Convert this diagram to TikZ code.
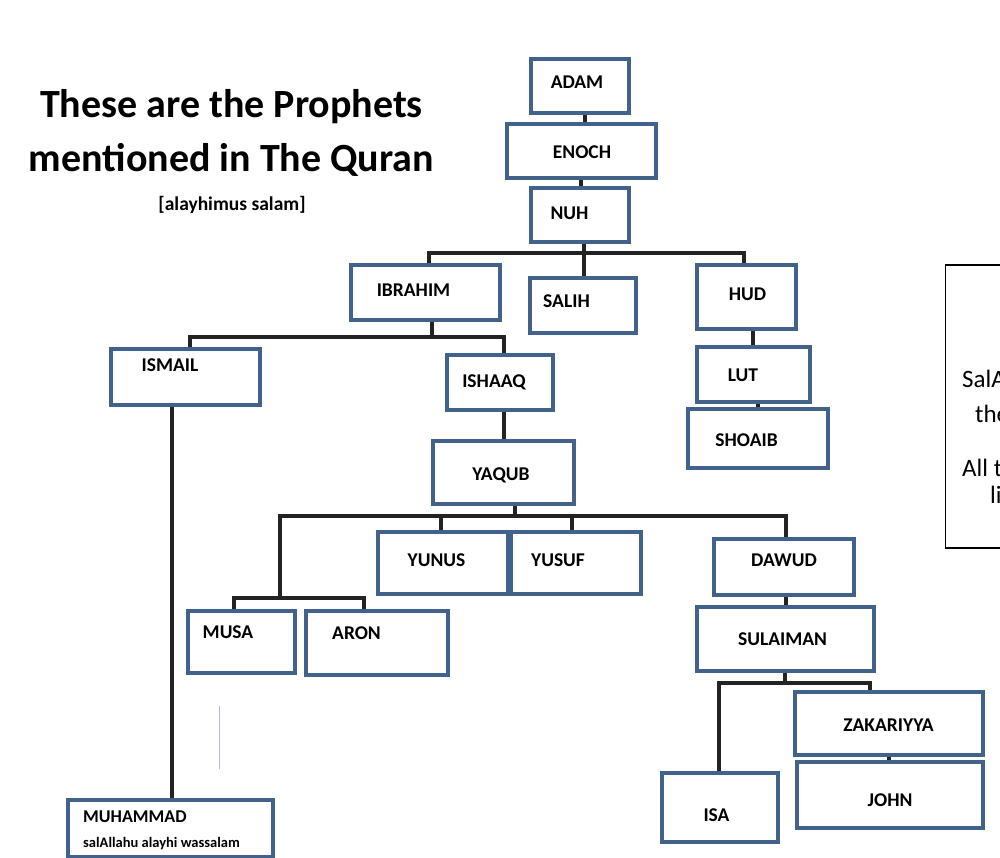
\documentclass[tikz,border=0pt]{standalone}
\usepackage{fontspec}
\setmainfont{Carlito}
\definecolor{boxblue}{RGB}{66,98,140}
\definecolor{connc}{RGB}{35,35,35}
\definecolor{faintline}{RGB}{176,186,204}
\begin{document}
\begin{tikzpicture}[x=1pt,y=-1pt,
  box/.style={draw=boxblue,line width=3.2pt,fill=white,rectangle,inner sep=0pt},
  lbl/.style={font=\fontsize{19.5}{22}\selectfont\bfseries,anchor=base,inner sep=0pt},
  conn/.style={draw=connc,line width=3.5pt},
  title/.style={font=\fontsize{40}{46}\selectfont\bfseries,anchor=base,inner sep=0pt},
  side/.style={font=\fontsize{25}{30}\selectfont,anchor=base west,inner sep=0pt}]
\useasboundingbox (0,0) rectangle (1000,858);
\clip (0,0) rectangle (1000,858);
\fill[white] (0,0) rectangle (1000,858);

% title
\node[title] (t1) at (231.5,118) {These are the Prophets};
\node[title] (t2) at (231.5,172) {mentioned in The Quran};
\node[font=\fontsize{19.5}{22}\selectfont\bfseries,anchor=base,inner sep=0pt] (t3) at (232,211) {[alayhimus salam]};

% junction coordinates
\coordinate (j1L) at (429,253);
\coordinate (j1R) at (744,253);
\coordinate (j2T) at (432,337);
\coordinate (j2L) at (190,337);
\coordinate (j2R) at (504,337);
\coordinate (mx) at (172,0);
\coordinate (j3T) at (515,516);
\coordinate (j3L) at (280,516);
\coordinate (j3R) at (786,516);
\coordinate (j3a) at (441,516);
\coordinate (j3b) at (572,516);
\coordinate (j4M) at (280,598);
\coordinate (j4L) at (234,598);
\coordinate (j4R) at (364,598);
\coordinate (j5T) at (785,683);
\coordinate (j5L) at (719,683);
\coordinate (j5R) at (870,683);
\coordinate (c1) at (585,0);
\coordinate (c2) at (581,0);
\coordinate (c3) at (584,0);
\coordinate (c4) at (753,0);
\coordinate (c5) at (758,0);
\coordinate (c6) at (786,0);
\coordinate (c7) at (889,0);

% boxes
\node[box,minimum width=98pt,minimum height=54pt] (adam) at (580,86) {};
\node[box,minimum width=149pt,minimum height=54pt] (enoch) at (581.5,151) {};
\node[box,minimum width=98pt,minimum height=54pt] (nuh) at (580,215) {};
\node[box,minimum width=149pt,minimum height=55pt] (ibrahim) at (425.5,292.5) {};
\node[box,minimum width=106pt,minimum height=55pt] (salih) at (583,305.5) {};
\node[box,minimum width=99pt,minimum height=64pt] (hud) at (746.5,297) {};
\node[box,minimum width=113pt,minimum height=55pt] (lut) at (753.5,374.5) {};
\node[box,minimum width=140pt,minimum height=59pt] (shoaib) at (758,438.5) {};
\node[box,minimum width=149pt,minimum height=56pt] (ismail) at (185.5,377) {};
\node[box,minimum width=106pt,minimum height=55pt] (ishaaq) at (500,382.5) {};
\node[box,minimum width=141pt,minimum height=63pt] (yaqub) at (503.5,472.5) {};
\node[box,minimum width=130pt,minimum height=62pt] (yunus) at (443,563) {};
\node[box,minimum width=130pt,minimum height=62pt] (yusuf) at (576,563) {};
\node[box,minimum width=140pt,minimum height=56pt] (dawud) at (784,567) {};
\node[box,minimum width=107pt,minimum height=62pt] (musa) at (241.5,642) {};
\node[box,minimum width=142pt,minimum height=64pt] (aron) at (377,643) {};
\node[box,minimum width=177pt,minimum height=64pt] (sulaiman) at (785.5,639) {};
\node[box,minimum width=188pt,minimum height=63pt] (zakariyya) at (889,723.5) {};
\node[box,minimum width=186pt,minimum height=66pt] (john) at (890,795) {};
\node[box,minimum width=116pt,minimum height=69pt] (isa) at (720,807.5) {};
\node[box,minimum width=205pt,minimum height=57pt] (muhammad) at (170.5,828.5) {};

% connectors
\draw[conn] (c1 |- adam.south) -- (c1 |- enoch.north);
\draw[conn] (c2 |- enoch.south) -- (c2 |- nuh.north);
\draw[conn] (c3 |- nuh.south) -- (c3 |- salih.north);
\draw[conn] (j1L |- ibrahim.north) -- (j1L) -- (j1R) -- (j1R |- hud.north);
\draw[conn] (c4 |- hud.south) -- (c4 |- lut.north);
\draw[conn] (c5 |- lut.south) -- (c5 |- shoaib.north);
\draw[conn] (j2T |- ibrahim.south) -- (j2T);
\draw[conn] (j2L |- ismail.north) -- (j2L) -- (j2R) -- (j2R |- ishaaq.north);
\draw[conn] (mx |- ismail.south) -- (mx |- muhammad.north);
\draw[conn] (j2R |- ishaaq.south) -- (j2R |- yaqub.north);
\draw[conn] (j3T |- yaqub.south) -- (j3T);
\draw[conn] (j4M) -- (j3L) -- (j3R) -- (j3R |- dawud.north);
\draw[conn] (j3a) -- (j3a |- yunus.north);
\draw[conn] (j3b) -- (j3b |- yusuf.north);
\draw[conn] (j4L |- musa.north) -- (j4L) -- (j4R) -- (j4R |- aron.north);
\draw[conn] (c6 |- dawud.south) -- (c6 |- sulaiman.north);
\draw[conn] (j5T |- sulaiman.south) -- (j5T);
\draw[conn] (j5L |- isa.north) -- (j5L) -- (j5R) -- (j5R |- zakariyya.north);
\draw[conn] (c7 |- zakariyya.south) -- (c7 |- john.north);

% labels
\node[lbl] (ladam) at (577,88.5) {ADAM};
\node[lbl] (lenoch) at (582,158.5) {ENOCH};
\node[lbl] (lnuh) at (569.5,220) {NUH};
\node[lbl] (librahim) at (413.5,297) {IBRAHIM};
\node[lbl] (lsalih) at (566.5,307) {SALIH};
\node[lbl] (lhud) at (747.5,300) {HUD};
\node[lbl] (llut) at (743,381) {LUT};
\node[lbl] (lshoaib) at (746.5,446) {SHOAIB};
\node[lbl] (lismail) at (170,371) {ISMAIL};
\node[lbl] (lishaaq) at (494,387) {ISHAAQ};
\node[lbl] (lyaqub) at (501,480) {YAQUB};
\node[lbl] (lyunus) at (436.5,566) {YUNUS};
\node[lbl] (lyusuf) at (558,566) {YUSUF};
\node[lbl] (ldawud) at (784,566) {DAWUD};
\node[lbl] (lmusa) at (228,638) {MUSA};
\node[lbl] (laron) at (356.5,639) {ARON};
\node[lbl] (lsulaiman) at (782.5,645) {SULAIMAN};
\node[lbl] (lzak) at (888.5,731) {ZAKARIYYA};
\node[lbl] (ljohn) at (890,806) {JOHN};
\node[lbl] (lisa) at (716.5,821) {ISA};
\node[lbl,anchor=base west,font=\fontsize{18}{22}\selectfont\bfseries] (lmuh) at (83,822) {MUHAMMAD};
\node[lbl,anchor=base west,font=\fontsize{14.5}{18}\selectfont\bfseries] (lmuh2) at (83,847) {salAllahu alayhi wassalam};

% faint line
\draw[faintline,line width=1pt] (219,706) -- (219,769);

% right partial box
\draw[black,line width=1.2pt] (1010,265) -- (945.5,265) -- (945.5,548) -- (1010,548);
\node[side] (s1) at (962,387) {SalA};
\node[side] (s2) at (975,422) {the};
\node[side] (s3) at (962,476) {All t};
\node[side] (s4) at (990,503) {li};
\end{tikzpicture}
\end{document}
